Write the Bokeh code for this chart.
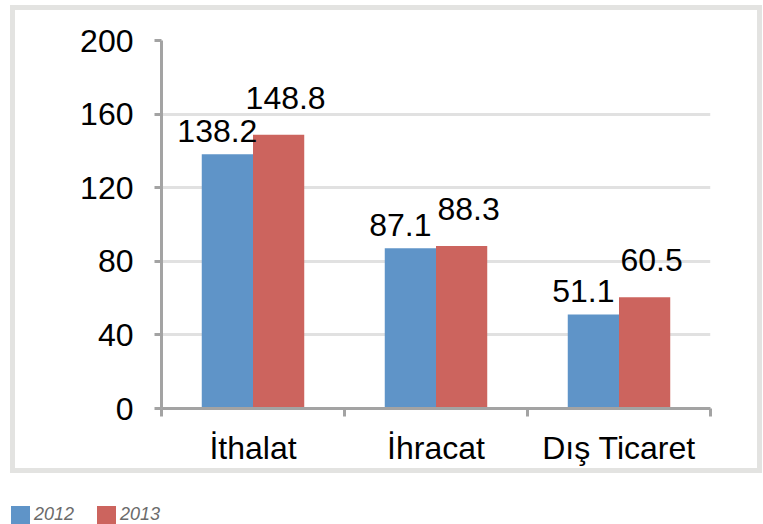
from bokeh.plotting import figure
from bokeh.layouts import column
from bokeh.models import (ColumnDataSource, Range1d, FixedTicker, InlineStyleSheet, Div)
from bokeh.transform import dodge
from bokeh.core.properties import value
from bokeh.embed import file_html
from bokeh.resources import INLINE

# ---- data ----
categories = ["İthalat", "İhracat", "Dış Ticaret"]
years = ["2012", "2013"]
values_2012 = [138.2, 87.1, 51.1]
values_2013 = [148.8, 88.3, 60.5]
y_ticks = [0, 40, 80, 120, 160, 200]

FONT = "Liberation Sans"
BLUE = "#5f94c8"
RED = "#cc645e"
AXIS = "#a3a3a3"
GRID = "#e1e1e1"
series_colors = [BLUE, RED]

x_pos = [i + 0.5 for i in range(len(categories))]
src = ColumnDataSource(dict(
    x=x_pos, cat=categories,
    v12=values_2012, v13=values_2013,
    l12=[f"{v:.1f}" for v in values_2012],
    l13=[f"{v:.1f}" for v in values_2013],
))

WIDTH = 763
H_MAIN, H_LEG = 490, 34
p = figure(width=WIDTH, height=H_MAIN, output_backend="svg", toolbar_location=None,
           x_range=Range1d(0, len(categories)), y_range=Range1d(y_ticks[0], y_ticks[-1]),
           min_border_left=161, min_border_right=53, min_border_top=40, min_border_bottom=82,
           outline_line_color=None, background_fill_color="white", border_fill_color="white")

# outer light-grey frame around the chart area (pure decoration)
p.stylesheets = [InlineStyleSheet(css="""
:host::after {
  content: ""; position: absolute; left: 10px; top: 5px;
  width: 752px; height: 468px; border: 5px solid #e3e3e1;
  box-sizing: border-box; pointer-events: none;
}
""")]

W = 0.28
r12 = p.vbar(x=dodge("x", -W / 2), top="v12", width=W, source=src,
             fill_color=BLUE, line_color=None)
r13 = p.vbar(x=dodge("x", W / 2), top="v13", width=W, source=src,
             fill_color=RED, line_color=None)

p.text(x=dodge("x", -W / 2), y="v12", text="l12", source=src, x_offset=-10, y_offset=-23,
       text_align="center", text_baseline="alphabetic", text_font=value(FONT),
       text_font_size="32px", text_color="black")
p.text(x=dodge("x", W / 2), y="v13", text="l13", source=src, x_offset=7, y_offset=-37,
       text_align="center", text_baseline="alphabetic", text_font=value(FONT),
       text_font_size="32px", text_color="black")

# grid
p.xgrid.visible = False
p.ygrid.ticker = FixedTicker(ticks=y_ticks)
p.ygrid.grid_line_color = GRID
p.ygrid.grid_line_width = 3

# y axis
p.yaxis.ticker = FixedTicker(ticks=y_ticks)
p.yaxis.axis_line_color = AXIS
p.yaxis.axis_line_width = 3
p.yaxis.major_tick_line_color = AXIS
p.yaxis.major_tick_line_width = 3
p.yaxis.major_tick_out = 7
p.yaxis.major_tick_in = 0
p.yaxis.minor_tick_line_color = None
p.yaxis.major_label_standoff = 21
p.yaxis.major_label_text_font = FONT
p.yaxis.major_label_text_font_size = "32px"
p.yaxis.major_label_text_color = "black"

# x axis
p.xaxis.ticker = FixedTicker(ticks=x_pos, minor_ticks=list(range(len(categories) + 1)))
p.xaxis.major_label_overrides = {x: c for x, c in zip(x_pos, categories)}
p.xaxis.axis_line_color = AXIS
p.xaxis.axis_line_width = 3
p.xaxis.major_tick_line_color = None
p.xaxis.major_tick_out = 0
p.xaxis.major_tick_in = 0
p.xaxis.minor_tick_line_color = AXIS
p.xaxis.minor_tick_line_width = 3
p.xaxis.minor_tick_out = 8
p.xaxis.minor_tick_in = 0
p.xaxis.major_label_standoff = 13
p.xaxis.major_label_text_font = FONT
p.xaxis.major_label_text_font_size = "32px"
p.xaxis.major_label_text_color = "black"

# ---- legend strip under the chart ----
swatch_left = [11, 97]
items_html = ""
for yr, col, lx in zip(years, series_colors, swatch_left):
    items_html += (
        f'<span style="position:absolute;left:{lx}px;top:16px;width:19px;height:18px;'
        f'background:{col};"></span>'
        f'<span style="position:absolute;left:{lx + 23}px;top:15px;line-height:19px;'
        f'font-family:\'Liberation Sans Narrow\',\'{FONT}\';font-style:italic;'
        f'font-size:18px;color:#6b6b6b;">{yr}</span>'
    )
legend_div = Div(text=f'<div style="position:relative;width:{WIDTH}px;height:{H_LEG}px;">'
                      f'{items_html}</div>',
                 width=WIDTH, height=H_LEG, margin=0)

layout = column(p, legend_div, spacing=0)
open("out.html", "w").write(file_html(layout, INLINE))
